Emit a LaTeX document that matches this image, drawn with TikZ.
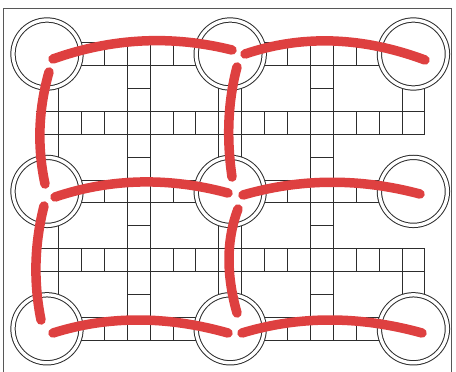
\documentclass[tikz,border=0pt]{standalone}
\usetikzlibrary{calc}
\definecolor{trackred}{RGB}{222,64,64}
\definecolor{ink}{RGB}{45,45,45}
\newcommand\GX[1]{47+(#1)*22.9}
\newcommand\GY[1]{54+(#1)*22.9}
\newcommand\trackarc[3]{\draw[track] (#1) .. controls ($(#1)!2/3!(#2)$) and ($(#3)!2/3!(#2)$) .. (#3);}
\begin{document}
\begin{tikzpicture}[x=1pt,y=-1pt,
  gridline/.style={draw=ink,line width=0.75pt},
  frameline/.style={draw=ink!80,line width=0.9pt},
  ring/.style={circle,minimum size=68pt,inner sep=0pt,fill=white,draw=ink,line width=1pt,double=white,double distance=3.3pt},
  track/.style={draw=trackred,line width=9.5pt,line cap=round}]
\useasboundingbox (0,0) rectangle (456,372);
% frame
\draw[frameline] (3,373) -- (3,8) -- (451,8) -- (451,373);
% horizontal ladders on the ring rows
\foreach \j in {0,6,12}{
  \draw[gridline] ({\GX{0}},{\GY{\j-0.5}}) -- ({\GX{16}},{\GY{\j-0.5}});
  \draw[gridline] ({\GX{0}},{\GY{\j+0.5}}) -- ({\GX{16}},{\GY{\j+0.5}});
  \foreach \k in {0,...,15}{
    \draw[gridline] ({\GX{\k+0.5}},{\GY{\j-0.5}}) -- ({\GX{\k+0.5}},{\GY{\j+0.5}});
  }
}
% horizontal ladders between the ring rows
\foreach \j in {3,9}{
  \draw[gridline] ({\GX{-0.5}},{\GY{\j-0.5}}) -- ({\GX{16.5}},{\GY{\j-0.5}});
  \draw[gridline] ({\GX{-0.5}},{\GY{\j+0.5}}) -- ({\GX{16.5}},{\GY{\j+0.5}});
  \foreach \k in {0,...,16}{
    \draw[gridline] ({\GX{\k+0.5}},{\GY{\j-0.5}}) -- ({\GX{\k+0.5}},{\GY{\j+0.5}});
  }
}
% vertical ladders between the ring columns
\foreach \i in {4,12}{
  \draw[gridline] ({\GX{\i-0.5}},{\GY{-0.5}}) -- ({\GX{\i-0.5}},{\GY{12.5}});
  \draw[gridline] ({\GX{\i+0.5}},{\GY{-0.5}}) -- ({\GX{\i+0.5}},{\GY{12.5}});
  \foreach \k in {-1,...,12}{
    \draw[gridline] ({\GX{\i-0.5}},{\GY{\k+0.5}}) -- ({\GX{\i+0.5}},{\GY{\k+0.5}});
  }
}
% ladders along the ring columns
\draw[gridline] ({\GX{0.5}},{\GY{0}}) -- ({\GX{0.5}},{\GY{12}});
\draw[gridline] ({\GX{7.5}},{\GY{0}}) -- ({\GX{7.5}},{\GY{12}});
\draw[gridline] ({\GX{8.5}},{\GY{0}}) -- ({\GX{8.5}},{\GY{12}});
\draw[gridline] ({\GX{15.5}},{\GY{0}}) -- ({\GX{15.5}},{\GY{3.5}});
\draw[gridline] ({\GX{16.5}},{\GY{0}}) -- ({\GX{16.5}},{\GY{3.5}});
\draw[gridline] ({\GX{15.5}},{\GY{8.5}}) -- ({\GX{15.5}},{\GY{12}});
\draw[gridline] ({\GX{16.5}},{\GY{8.5}}) -- ({\GX{16.5}},{\GY{12}});
% rings
\foreach \i in {0,8,16}{
  \foreach \j in {0,6,12}{
    \node[ring] (ring-\i-\j) at ({\GX{\i}},{\GY{\j}}) {};
  }
}
% red tracks: horizontal
\trackarc{53,59}{141.5,27.5}{232,50}
\trackarc{245,54}{331,25}{425,60}
\trackarc{55,197}{138.5,169}{228,193}
\trackarc{243,195}{329.5,170}{420,194}
\trackarc{53,333}{135.5,307}{228,333}
\trackarc{242,333}{328,307}{422,333}
% red tracks: vertical
\trackarc{49,72}{33,128}{45,184}
\trackarc{44,206}{29.5,263}{41,320}
\trackarc{237,67}{223.5,118}{232,177}
\trackarc{238,209}{220.5,255}{237,313}
\end{tikzpicture}
\end{document}
